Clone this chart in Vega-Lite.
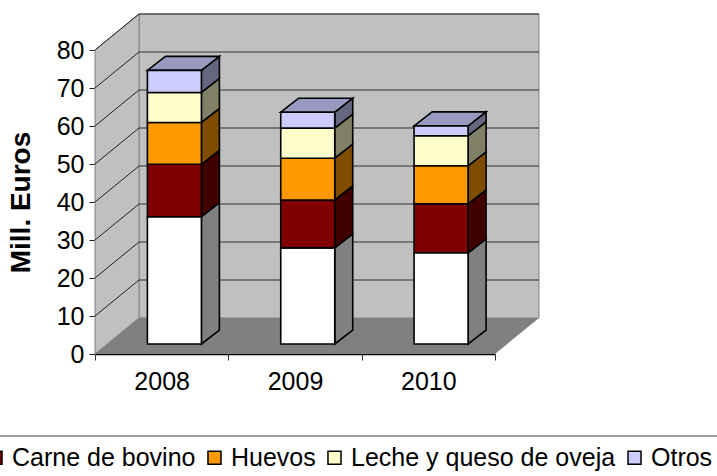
{
"$schema":"https://vega.github.io/schema/vega-lite/v6.json",
"width":400,"height":304,
"autosize":{"type":"none"},
"padding":{"left":95,"top":50,"right":222,"bottom":122},
"background":"white",
"view":{"stroke":null},
"config":{"font":"Liberation Sans","axis":{"grid":false}},
"datasets":{
"ventas":[
{"year":2008,"serie":"Carne de ovino","value":33.5},
{"year":2008,"serie":"Carne de bovino","value":13.8},
{"year":2008,"serie":"Huevos","value":11},
{"year":2008,"serie":"Leche y queso de oveja","value":7.9},
{"year":2008,"serie":"Otros","value":5.8},
{"year":2009,"serie":"Carne de ovino","value":25.3},
{"year":2009,"serie":"Carne de bovino","value":12.6},
{"year":2009,"serie":"Huevos","value":11},
{"year":2009,"serie":"Leche y queso de oveja","value":7.9},
{"year":2009,"serie":"Otros","value":4.2},
{"year":2010,"serie":"Carne de ovino","value":24},
{"year":2010,"serie":"Carne de bovino","value":12.9},
{"year":2010,"serie":"Huevos","value":10},
{"year":2010,"serie":"Leche y queso de oveja","value":7.9},
{"year":2010,"serie":"Otros","value":2.6}
],
"ticks":[{"t":0},{"t":10},{"t":20},{"t":30},{"t":40},{"t":50},{"t":60},{"t":70},{"t":80}]
},
"resolve":{"axis":{"x":"independent","y":"independent"}},
"layer":[
{"data":{"values":[{}]},
 "mark":{"type":"rect","fill":"#C0C0C0","stroke":"#808080","strokeWidth":1},
 "encoding":{
  "x":{"datum":0.33,"type":"quantitative","scale":{"domain":[0,3],"nice":false,"zero":false},"axis":null},
  "x2":{"datum":3.33},
  "y":{"datum":9.47,"type":"quantitative","scale":{"domain":[0,80],"nice":false,"zero":false},"axis":null},
  "y2":{"datum":89.47}
 }},
{"data":{"values":[{"d":0},{"d":1}]},
 "transform":[{"calculate":"datum.d*0.33","as":"wx"},{"calculate":"datum.d*9.47","as":"lo"},{"calculate":"80+datum.d*9.47","as":"hi"}],
 "mark":{"type":"area","orient":"vertical","fill":"#C0C0C0","stroke":"#808080","strokeWidth":1},
 "encoding":{"x":{"field":"wx","type":"quantitative","axis":null},"y":{"field":"lo","type":"quantitative","axis":null},"y2":{"field":"hi"}}},
{"data":{"values":[{"d":0},{"d":1}]},
 "transform":[{"calculate":"datum.d*9.47","as":"fy"},{"calculate":"datum.d*0.33","as":"fl"},{"calculate":"3+datum.d*0.33","as":"fr"}],
 "mark":{"type":"area","orient":"horizontal","fill":"#808080"},
 "encoding":{"y":{"field":"fy","type":"quantitative","axis":null},"x":{"field":"fl","type":"quantitative","axis":null},"x2":{"field":"fr"}}},
{"data":{"name":"ticks"},
 "transform":[{"filter":"datum.t>0"},{"calculate":"datum.t+9.47","as":"tb"}],
 "mark":{"type":"rule","color":"#202020","strokeWidth":1},
 "encoding":{"x":{"datum":0,"type":"quantitative","axis":null},"x2":{"datum":0.33},"y":{"field":"t","type":"quantitative","axis":null},"y2":{"field":"tb"}}},
{"data":{"name":"ticks"},
 "transform":[{"filter":"datum.t>0"},{"calculate":"datum.t+9.47","as":"tb"}],
 "mark":{"type":"rule","color":"#303030","strokeWidth":1},
 "encoding":{"x":{"datum":0.33,"type":"quantitative","axis":null},"x2":{"datum":3.33},"y":{"field":"tb","type":"quantitative","axis":null}}},
{"data":{"name":"ventas"},
 "resolve":{"axis":{"x":"independent","y":"independent"}},
 "transform":[
  {"calculate":"indexof(['Carne de ovino','Carne de bovino','Huevos','Leche y queso de oveja','Otros'],datum.serie)","as":"ord"},
  {"stack":"value","groupby":["year"],"sort":[{"field":"ord","order":"ascending"}],"as":["v0","v1"]},
  {"calculate":"datum.v0+2.63","as":"b0"},
  {"calculate":"datum.v1+2.63","as":"b1"},
  {"calculate":"datum.year-2008+0.393","as":"xl"},
  {"calculate":"datum.xl+0.405","as":"xr"},
  {"calculate":"datum.year+'-'+datum.serie","as":"key"},
  {"calculate":"[0,1]","as":"ds"},
  {"flatten":["ds"]},
  {"calculate":"datum.xr+datum.ds*0.135","as":"sx"},
  {"calculate":"datum.b0+datum.ds*3.68","as":"slo"},
  {"calculate":"datum.b1+datum.ds*3.68","as":"shi"},
  {"calculate":"datum.xl+datum.ds*0.135","as":"tl"}
 ],
 "layer":[
  {"mark":{"type":"area","orient":"vertical","stroke":"#000","strokeWidth":1.6,"strokeJoin":"miter"},
   "encoding":{
    "x":{"field":"sx","type":"quantitative","axis":null},
    "y":{"field":"slo","type":"quantitative","axis":null},
    "y2":{"field":"shi"},
    "detail":{"field":"key"},
    "fill":{"field":"serie","type":"nominal","legend":null,"scale":{"domain":["Otros","Leche y queso de oveja","Huevos","Carne de bovino","Carne de ovino"],"range":["#666680","#808066","#804C00","#400000","#808080"]}}}},
  {"transform":[{"filter":"datum.serie==='Otros'"}],
   "mark":{"type":"area","orient":"horizontal","fill":"#9999BF","stroke":"#000","strokeWidth":1.6},
   "encoding":{
    "y":{"field":"shi","type":"quantitative","axis":null},
    "x":{"field":"tl","type":"quantitative","axis":null},
    "x2":{"field":"sx"},
    "detail":{"field":"key"}}},
  {"transform":[{"filter":"datum.ds===0"}],
   "mark":{"type":"rect","stroke":"#000","strokeWidth":1.6},
   "encoding":{
    "x":{"field":"xl","type":"quantitative","axis":null},
    "x2":{"field":"xr"},
    "y":{"field":"b0","type":"quantitative","axis":null},
    "y2":{"field":"b1"},
    "color":{"field":"serie","type":"nominal","title":null,
     "scale":{"domain":["Carne de ovino","Carne de bovino","Huevos","Leche y queso de oveja","Otros"],"range":["#FFFFFF","#800000","#FF9900","#FFFFCC","#CCCCFF"]},
     "legend":{"orient":"none","legendX":-112,"legendY":395,"direction":"horizontal","columns":4,"values":["Carne de bovino","Huevos","Leche y queso de oveja","Otros"],"symbolType":"square","symbolSize":170,"symbolStrokeColor":"#000","symbolStrokeWidth":1.5,"symbolOpacity":1,"labelFontSize":25,"labelColor":"#000","labelLimit":400,"labelOffset":4,"columnPadding":6,"padding":0}}}}
 ]},
{"data":{"values":[{}]},
 "mark":{"type":"rule","color":"#808080","strokeWidth":1.5},
 "encoding":{"x":{"datum":-0.7125,"type":"quantitative","axis":null},"x2":{"datum":4.665},"y":{"datum":-21.6,"type":"quantitative","axis":null}}},
{"data":{"values":[{"a":0}]},
 "mark":{"type":"rule","opacity":0},
 "encoding":{
  "x":{"field":"a","type":"quantitative",
   "axis":{"title":null,"values":[0,0.5,1,1.5,2,2.5,3],"labelExpr":"datum.value%1?format(2007.5+datum.value,'d'):''","labelFontSize":25,"labelColor":"#000","labelPadding":9,"labelOverlap":false,"labelFlush":false,"domainColor":"#000","domainWidth":1.5,"tickColor":"#333","tickSize":6,"tickOpacity":{"condition":{"test":"datum.value%1===0","value":1},"value":0}}},
  "y":{"field":"a","type":"quantitative",
   "axis":{"title":"Mill. Euros","titleFontSize":28,"titleFontWeight":"bold","titleColor":"#000","titlePadding":21,"values":[0,10,20,30,40,50,60,70,80],"labelFontSize":25,"labelColor":"#000","labelPadding":5,"labelOverlap":false,"labelFlush":false,"domainColor":"#808080","domainWidth":1,"tickColor":"#222","tickSize":6}}
 }}
]
}
